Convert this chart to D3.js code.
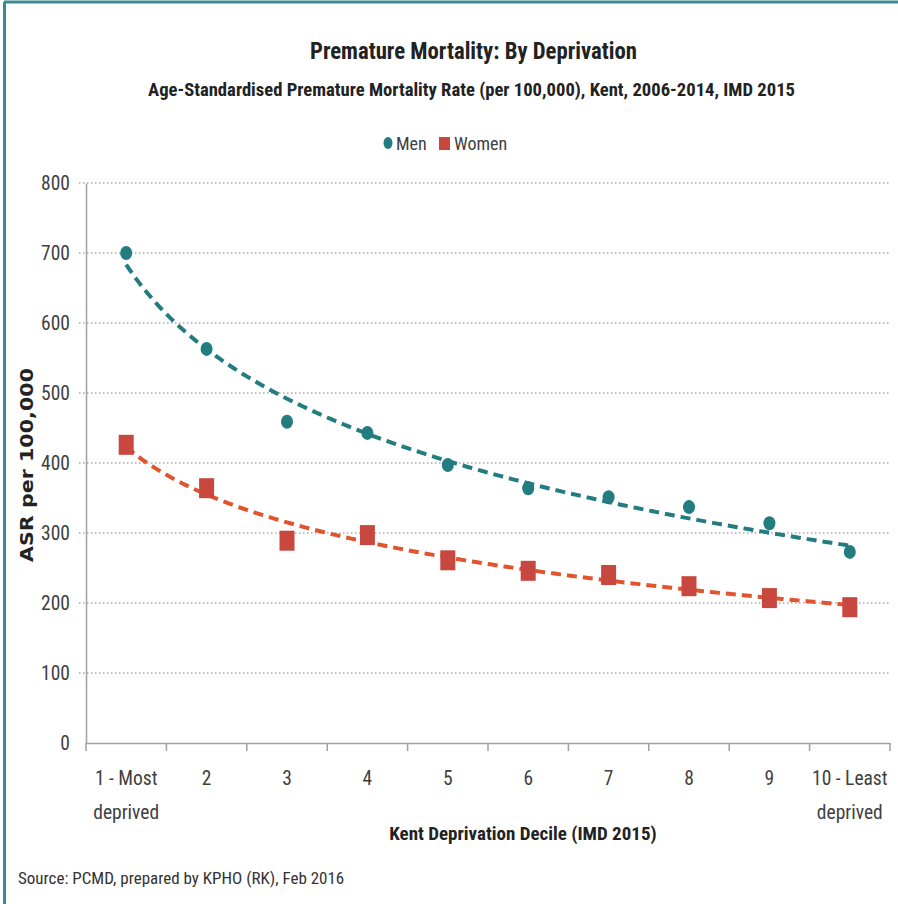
<!DOCTYPE html>
<html><head><meta charset="utf-8">
<script src="https://cdn.jsdelivr.net/npm/d3@7"></script>
<style>
html,body{margin:0;padding:0;background:#fff;}
svg{display:block;}
</style></head>
<body>
<script>
const categories = ["1 - Most\ndeprived","2","3","4","5","6","7","8","9","10 - Least\ndeprived"];
const deciles = [1,2,3,4,5,6,7,8,9,10];
const menValues = [700,563,459,443,397,364,351,337,314,273];
const womenValues = [426,364,289,297,261,246,240,224,207,194];
const yTicks = [0,100,200,300,400,500,600,700,800];
const seriesNames = ["Men","Women"];

(function(){
const W = 898, H = 904;
const narrow = "'Liberation Sans Narrow','Arial Narrow','Roboto Condensed',sans-serif";
const menColor = "#227C80", womenColor = "#C8473F", womenTrend = "#E0552E";

const svg = d3.select("body").append("svg").attr("width", W).attr("height", H);
svg.append("rect").attr("width",W).attr("height",H).attr("fill","#fff");
svg.append("line").attr("x1",4).attr("x2",W).attr("y1",2).attr("y2",2).attr("stroke","#3A8C93").attr("stroke-width",3);
svg.append("line").attr("x1",4.5).attr("x2",4.5).attr("y1",2).attr("y2",H).attr("stroke","#3A8C93").attr("stroke-width",3);

const pl = 86, pr = 890, pt = 183, pb = 743;
const x = d3.scaleBand().domain(categories).range([pl,pr]).padding(0);
const y = d3.scaleLinear().domain([0,800]).range([pb,pt]);
const xc = d3.scaleLinear().domain([1,10]).range([x(categories[0])+x.bandwidth()/2, x(categories[9])+x.bandwidth()/2]);

svg.append("g").selectAll("line").data(yTicks.filter(d=>d>0)).join("line")
  .attr("x1",pl-7).attr("x2",pr).attr("y1",d=>y(d)).attr("y2",d=>y(d))
  .attr("stroke","#A8A8A8").attr("stroke-width",1.5).attr("stroke-dasharray","1.5,2.5");

const yAxis = svg.append("g").attr("transform",`translate(${pl},0)`)
  .call(d3.axisLeft(y).tickValues(yTicks).tickSize(0).tickPadding(16));
yAxis.select(".domain").attr("stroke","#A0A0A0").attr("stroke-width",1.5);
yAxis.selectAll("text").attr("font-family",narrow).attr("font-size",19.5).attr("fill","#404040");

const xAxis = svg.append("g").attr("transform",`translate(0,${pb})`)
  .call(d3.axisBottom(x).tickSize(0).tickFormat(""));
xAxis.select(".domain").attr("stroke","#A0A0A0").attr("stroke-width",1.5);
const bounds = d3.range(categories.length+1).map(i => pl + i*x.bandwidth());
svg.append("g").selectAll("line").data(bounds).join("line")
  .attr("x1",d=>d).attr("x2",d=>d).attr("y1",pb).attr("y2",pb+8)
  .attr("stroke","#A0A0A0").attr("stroke-width",1.5);
const xl = svg.append("g").selectAll("text").data(categories).join("text")
  .attr("x",d=>x(d)+x.bandwidth()/2).attr("y",pb+42)
  .attr("text-anchor","middle").attr("font-family",narrow).attr("font-size",19.5).attr("fill","#404040");
xl.each(function(d){
  const parts = d.split("\n");
  d3.select(this).selectAll("tspan").data(parts).join("tspan")
    .attr("x",x(d)+x.bandwidth()/2).attr("dy",(p,i)=>i===0?0:34).text(p=>p);
});

function logFit(vals){
  const lx = deciles.map(Math.log);
  const mx = d3.mean(lx), my = d3.mean(vals);
  const b = d3.sum(lx.map((v,i)=>(v-mx)*(vals[i]-my))) / d3.sum(lx.map(v=>(v-mx)*(v-mx)));
  const a = my - b*mx;
  return t => a + b*Math.log(t);
}
const fine = d3.range(1,10.001,0.05);
const line = d3.line().x(d=>xc(d[0])).y(d=>y(d[1]));
const fm = logFit(menValues), fw = logFit(womenValues);
svg.append("path").datum(fine.map(t=>[t,fm(t)])).attr("d",line).attr("fill","none")
  .attr("stroke",menColor).attr("stroke-width",4).attr("stroke-dasharray","10,6");
svg.append("path").datum(fine.map(t=>[t,fw(t)])).attr("d",line).attr("fill","none")
  .attr("stroke",womenTrend).attr("stroke-width",4).attr("stroke-dasharray","10,6");

svg.append("g").selectAll("ellipse").data(menValues).join("ellipse")
  .attr("cx",(d,i)=>x(categories[i])+x.bandwidth()/2).attr("cy",d=>y(d))
  .attr("rx",6).attr("ry",7).attr("fill",menColor);
svg.append("g").selectAll("rect").data(womenValues).join("rect")
  .attr("x",(d,i)=>x(categories[i])+x.bandwidth()/2-7.5).attr("y",d=>y(d)-10)
  .attr("width",15).attr("height",20).attr("fill",womenColor);

svg.append("text").attr("x",310).attr("y",59)
  .attr("font-family",narrow).attr("font-weight","bold").attr("font-size",24.5).attr("fill","#222")
  .attr("textLength",327).attr("lengthAdjust","spacingAndGlyphs")
  .text("Premature Mortality: By Deprivation");
svg.append("text").attr("x",148).attr("y",96)
  .attr("font-family",narrow).attr("font-weight","bold").attr("font-size",19).attr("fill","#222")
  .attr("textLength",647).attr("lengthAdjust","spacingAndGlyphs")
  .text("Age-Standardised Premature Mortality Rate (per 100,000), Kent, 2006-2014, IMD 2015");

const lg = svg.append("g");
lg.append("ellipse").attr("cx",388).attr("cy",143).attr("rx",4.5).attr("ry",6).attr("fill",menColor);
lg.append("text").attr("x",396).attr("y",150).attr("font-family",narrow).attr("font-size",18).attr("fill","#404040").text(seriesNames[0]);
lg.append("rect").attr("x",439).attr("y",137).attr("width",11).attr("height",13).attr("fill",womenColor);
lg.append("text").attr("x",454).attr("y",150).attr("font-family",narrow).attr("font-size",18).attr("fill","#404040").text(seriesNames[1]);

svg.append("text").attr("transform","translate(33,562) rotate(-90)")
  .attr("font-family","'DejaVu Sans',Verdana,sans-serif").attr("font-weight","bold").attr("font-size",18).attr("fill","#222")
  .attr("textLength",194).attr("lengthAdjust","spacingAndGlyphs")
  .text("ASR per 100,000");
svg.append("text").attr("x",523).attr("y",840).attr("text-anchor","middle")
  .attr("font-family",narrow).attr("font-weight","bold").attr("font-size",19).attr("fill","#222")
  .text("Kent Deprivation Decile (IMD 2015)");
svg.append("text").attr("x",18).attr("y",884)
  .attr("font-family",narrow).attr("font-size",17).attr("fill","#333")
  .text("Source: PCMD, prepared by KPHO (RK), Feb 2016");
})();
</script>
</body></html>
